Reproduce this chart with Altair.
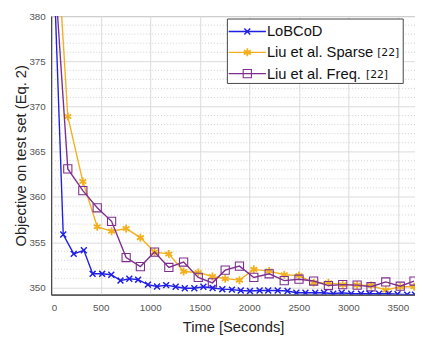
import altair as alt
import pandas as pd

# ---- data ----
lob_t = [25, 122, 228, 330, 419, 515, 607, 700, 789, 878, 977, 1069, 1161, 1257, 1349, 1445,
         1537, 1630, 1728, 1825, 1914, 2007, 2104, 2191, 2287, 2386, 2475, 2567, 2666, 2754,
         2848, 2933, 3029, 3128, 3214, 3310, 3408, 3497, 3594, 3673]
lob_v = [386.0, 355.85, 353.7, 354.1, 351.5, 351.5, 351.4, 350.75, 350.95, 350.85, 350.3, 350.1,
         350.25, 350.07, 349.9, 349.9, 350.07, 349.93, 349.8, 349.75, 349.65, 349.6, 349.65,
         349.65, 349.65, 349.6, 349.4, 349.4, 349.4, 349.4, 349.3, 349.4, 349.3, 349.3, 349.3,
         349.3, 349.3, 349.25, 349.2, 349.2]

liu_t = [23, 168, 320, 465, 610, 757, 901, 1044, 1188, 1337, 1485, 1628, 1757, 1901, 2046, 2201,
         2353, 2502, 2650, 2799, 2943, 3089, 3229, 3378, 3524, 3663]
sparse_v = [395.0, 368.9, 361.7, 356.7, 356.2, 356.5, 355.5, 353.9, 353.7, 351.75, 351.65, 351.2,
            350.96, 350.8, 351.99, 351.8, 351.4, 351.3, 350.5, 350.5, 350.3, 350.25, 350.2, 349.7,
            350.07, 350.07]
freq_v = [387.0, 363.1, 360.7, 358.8, 357.3, 353.3, 352.3, 353.9, 352.2, 352.8, 351.1, 350.5,
          351.9, 352.35, 351.1, 351.5, 350.75, 350.9, 350.7, 350.2, 350.3, 350.25, 350.07, 350.6,
          350.13, 350.7]

series_names = ["LoBCoD", "Liu et al. Sparse", "Liu et al. Freq."]
legend_refs = ["", "[22]", "[22]"]
colors = ["#1f1fe6", "#f2b01e", "#7e2f8e"]

x_ticks = [0, 500, 1000, 1500, 2000, 2500, 3000, 3500]
y_ticks = [350, 355, 360, 365, 370, 375, 380]
y_minor = [v for v in range(350, 381) if v % 5 != 0]

X_DOM = [0, 3673]
Y_DOM = [349.2, 380]

df_lob = pd.DataFrame({"t": lob_t, "v": lob_v})
df_sp = pd.DataFrame({"t": liu_t, "v": sparse_v})
df_fr = pd.DataFrame({"t": liu_t, "v": freq_v})

FONT = "Liberation Sans"

xs = alt.Scale(domain=X_DOM, nice=False, zero=False)
ys = alt.Scale(domain=Y_DOM, nice=False, zero=False)

x_enc = alt.X("t:Q", scale=xs, title="Time [Seconds]",
              axis=alt.Axis(values=x_ticks, format="d", grid=True, gridColor="#dadada", ticks=False,
                            domainColor="#333333", labelPadding=8, labelFontSize=10,
                            labelColor="#555555", labelFont=FONT, titleFont=FONT,
                            titleFontSize=15, titleFontWeight="normal", titleColor="#222222",
                            titlePadding=8))
y_enc = alt.Y("v:Q", scale=ys, title="Objective on test set (Eq. 2)",
              axis=alt.Axis(values=y_ticks, format="d", grid=True, gridColor="#dadada", ticks=False,
                            domainColor="#333333", labelPadding=6, labelFontSize=10,
                            labelColor="#555555", labelFont=FONT, titleFont=FONT,
                            titleFontSize=15, titleFontWeight="normal", titleColor="#222222",
                            titlePadding=0))

minor = alt.Chart(pd.DataFrame({"m": y_minor})).mark_rule(
    color="#cfcfcf", strokeDash=[1, 2], strokeWidth=1
).encode(y=alt.Y("m:Q", scale=ys))

XPATH = "M-1,-1L1,1M-1,1L1,-1"
ASTER = "M0,-1.1L0,1.1M-0.95,-0.55L0.95,0.55M-0.95,0.55L0.95,-0.55"

SHAPES = [(XPATH, 36, 1.5), (ASTER, 55, 1.8), ("square", 70, 1.1)]


def series(df, color, shape, size, sw):
    line = alt.Chart(df).mark_line(color=color, strokeWidth=1.4, clip=True).encode(x=x_enc, y=y_enc)
    pts = alt.Chart(df).mark_point(color=color, shape=shape, size=size, strokeWidth=sw,
                                   filled=False, clip=True, opacity=1).encode(
        x=alt.X("t:Q", scale=xs), y=alt.Y("v:Q", scale=ys))
    return [line, pts]


layers = [minor]
layers += series(df_sp, colors[1], *SHAPES[1])
layers += series(df_fr, colors[2], *SHAPES[2])
layers += series(df_lob, colors[0], *SHAPES[0])

# ---- legend (drawn by hand) ----
LX0, LX1, LY0, LY1 = 179.7, 359, 3, 68.7
leg_rect = alt.Chart(alt.Data(values=[{}])).mark_rect(
    fill="white", stroke="#444444", strokeWidth=1
).encode(x=alt.value(LX0), x2=alt.value(LX1), y=alt.value(LY0), y2=alt.value(LY1))
layers.append(leg_rect)

ycent = [15.7, 37, 58.7]
name_w = [0, 108.4, 97]
for i in range(3):
    d = pd.DataFrame({"label": [series_names[i]], "ref": [legend_refs[i]]})
    layers.append(alt.Chart(d).mark_rule(color=colors[i], strokeWidth=1.4).encode(
        x=alt.value(181), x2=alt.value(219), y=alt.value(ycent[i])))
    sh, sz, sw = SHAPES[i]
    layers.append(alt.Chart(d).mark_point(color=colors[i], shape=sh, size=sz, strokeWidth=sw,
                                          opacity=1).encode(x=alt.value(200), y=alt.value(ycent[i])))
    layers.append(alt.Chart(d).mark_text(align="left", baseline="middle", font=FONT, fontSize=15,
                                         color="#111111").encode(
        x=alt.value(220), y=alt.value(ycent[i]), text="label:N"))
    if legend_refs[i]:
        layers.append(alt.Chart(d).mark_text(align="left", baseline="middle", font="DejaVu Sans",
                                             fontSize=11, color="#111111").encode(
            x=alt.value(220 + name_w[i] + 4), y=alt.value(ycent[i] + 1), text="ref:N"))

chart = alt.layer(*layers).properties(
    width=371, height=284,
    autosize=alt.AutoSizeParams(type="none"),
    padding={"left": 44, "top": 5, "right": 0, "bottom": 40},
).configure_view(stroke="#444444", strokeWidth=1)

chart.save("out.html", embed_options={"renderer": "svg", "actions": False})
